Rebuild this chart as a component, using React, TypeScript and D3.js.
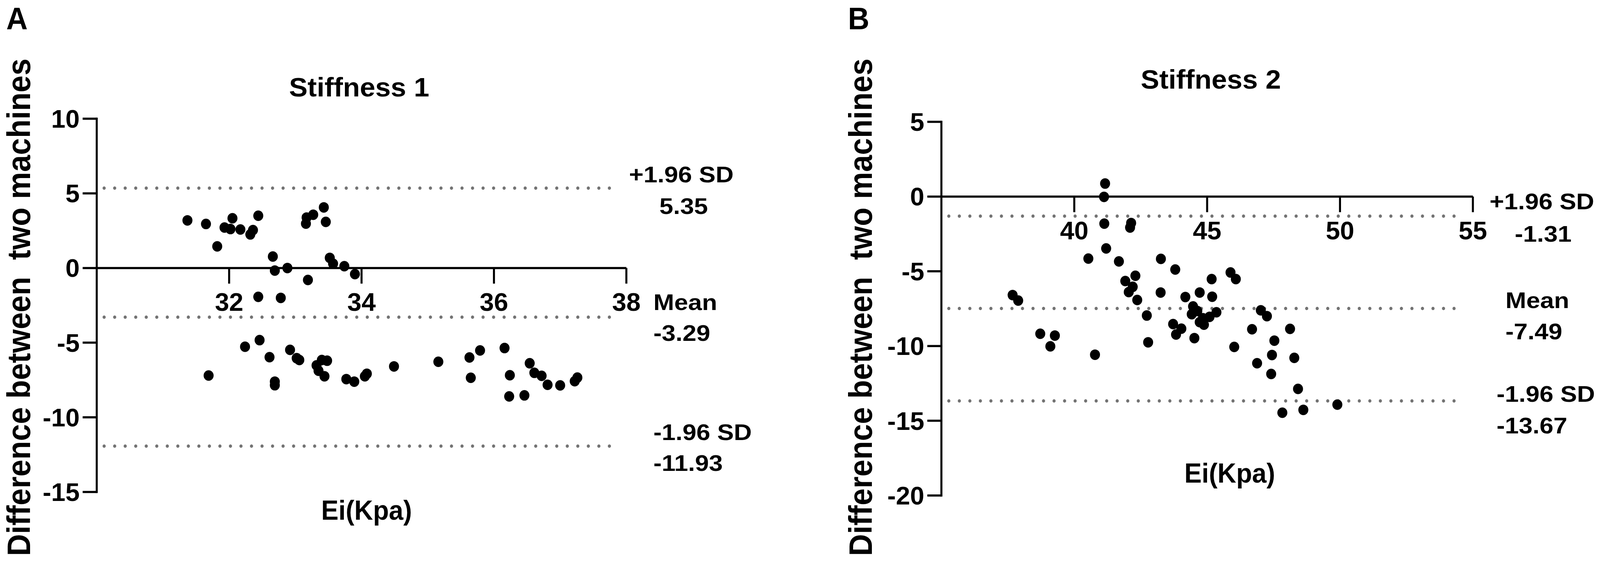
import * as d3 from "d3";

// Bland-Altman data: [mean Ei (kPa), difference]
const stiffness1Points: [number, number][] = [
  [31.37, 3.19], [31.65, 2.95], [31.82, 1.45], [31.93, 2.71], [32.05, 3.33],
  [32.02, 2.61], [32.17, 2.58], [32.32, 2.25], [32.36, 2.54], [32.44, 3.5],
  [32.66, 0.77], [32.69, -0.17], [32.88, 0.0], [33.16, 2.97], [33.17, 3.38],
  [33.27, 3.57], [33.43, 4.06], [33.46, 3.09], [33.19, -0.8], [33.52, 0.68],
  [33.57, 0.29], [33.74, 0.12], [33.9, -0.41], [32.44, -1.93], [32.78, -2.0],
  [31.69, -7.2], [32.24, -5.27], [32.46, -4.83], [32.61, -5.97], [32.69, -7.61],
  [32.69, -7.85], [32.92, -5.48], [33.02, -6.04], [33.06, -6.16], [33.32, -6.52],
  [33.4, -6.16], [33.48, -6.21], [33.35, -6.88], [33.44, -7.25], [33.77, -7.44],
  [33.89, -7.61], [34.05, -7.25], [34.08, -7.08], [34.49, -6.59], [35.16, -6.28],
  [35.63, -5.99], [35.79, -5.52], [35.65, -7.35], [36.16, -5.36], [36.24, -7.18],
  [36.23, -8.6], [36.46, -8.53], [36.54, -6.38], [36.61, -7.02], [36.72, -7.22],
  [36.81, -7.82], [37.0, -7.86], [37.22, -7.58], [37.26, -7.34],
];

const stiffness2Points: [number, number][] = [
  [37.68, -6.59], [37.89, -6.96], [38.72, -9.18], [39.27, -9.3], [39.1, -10.02],
  [40.53, -4.15], [40.78, -10.58], [41.16, 0.87], [41.12, -0.02], [41.13, -1.81],
  [42.14, -1.77], [42.1, -2.07], [41.2, -3.47], [41.68, -4.34], [41.92, -5.65],
  [42.3, -5.3], [42.2, -6.04], [42.05, -6.39], [42.37, -6.92], [42.73, -7.96],
  [42.78, -9.75], [43.26, -4.17], [43.8, -4.88], [43.25, -6.42], [43.72, -8.53],
  [44.03, -8.84], [43.83, -9.23], [44.18, -6.72], [44.72, -6.42], [45.19, -6.7],
  [45.17, -5.52], [44.47, -7.35], [44.42, -7.87], [44.63, -7.66], [44.84, -8.14],
  [44.72, -8.4], [44.88, -8.57], [45.35, -7.74], [45.09, -8.05], [44.52, -9.47],
  [45.88, -5.08], [46.08, -5.52], [46.02, -10.06], [46.69, -8.88], [46.88, -11.15],
  [47.02, -7.61], [47.25, -8.0], [47.53, -9.64], [47.44, -10.6], [47.41, -11.87],
  [48.12, -8.85], [48.28, -10.79], [48.42, -12.87], [47.83, -14.46], [48.62, -14.27],
  [49.9, -13.92],
];

const limitNames = ["+1.96 SD", "Mean", "-1.96 SD"];
const stiffness1Limits = [5.35, -3.29, -11.93];
const stiffness2Limits = [-1.31, -7.49, -13.67];

const stiffness1XTicks = [32, 34, 36, 38];
const stiffness1YTicks = [-15, -10, -5, 0, 5, 10];
const stiffness2XTicks = [40, 45, 50, 55];
const stiffness2YTicks = [-20, -15, -10, -5, 0, 5];

const W = 4317;
const H = 1447;
const FONT = "'Liberation Sans', Arial, Helvetica, sans-serif";
const GREY = "#737373";

const panels = [
  {
    letter: "A",
    letterX: 17,
    title: "Stiffness 1",
    titleX: 969,
    titleY: 247,
    points: stiffness1Points,
    limits: stiffness1Limits,
    xTicks: stiffness1XTicks,
    yTicks: stiffness1YTicks,
    xDomain: [30, 38],
    yDomain: [-15, 10],
    xRange: [261, 1690],
    yRange: [1260, 304],
    lineEnd: 1668,
    yLabelX: 81,
    xLabelX: 989,
    xLabelY: 1331,
    // [name x, name baseline, value x, value baseline]
    notes: [
      [1697, 467, 1779, 548],
      [1763, 794, 1763, 873],
      [1763, 1127, 1763, 1206],
    ],
  },
  {
    letter: "B",
    letterX: 2288,
    title: "Stiffness 2",
    titleX: 3267,
    titleY: 227,
    points: stiffness2Points,
    limits: stiffness2Limits,
    xTicks: stiffness2XTicks,
    yTicks: stiffness2YTicks,
    xDomain: [35, 55],
    yDomain: [-20, 5],
    xRange: [2540, 3974],
    yRange: [1269, 312],
    lineEnd: 3951,
    yLabelX: 2352,
    xLabelX: 3318,
    xLabelY: 1236,
    notes: [
      [4019, 536, 4087, 619],
      [4062, 789, 4062, 869],
      [4038, 1029, 4038, 1110],
    ],
  },
];

function Txt({ x, y, size, sx = 1.1, anchor = "start", children }: any) {
  return (
    <text
      transform={`translate(${x},${y}) scale(${sx},1)`}
      fontSize={size}
      fontWeight="bold"
      fontFamily={FONT}
      textAnchor={anchor}
      fill="#000"
    >
      {children}
    </text>
  );
}

function Panel({ p }: any) {
  const x = d3.scaleLinear().domain(p.xDomain).range(p.xRange);
  const y = d3.scaleLinear().domain(p.yDomain).range(p.yRange);
  const x0 = p.xRange[0];
  const y0 = y(0);
  const tick = 38;

  return (
    <g>
      <text x={p.letterX} y={75} fontSize={80} fontWeight="bold" fontFamily={FONT}>
        {p.letter}
      </text>
      <Txt x={p.titleX} y={p.titleY} size={68} anchor="middle">
        {p.title}
      </Txt>

      {/* limits of agreement */}
      {p.limits.map((v: number, i: number) => (
        <line
          key={"l" + i}
          x1={x0 + 20}
          x2={p.lineEnd}
          y1={y(v)}
          y2={y(v)}
          stroke={GREY}
          strokeWidth={8.5}
          strokeLinecap="round"
          strokeDasharray="0 28.4"
        />
      ))}

      {/* y axis */}
      <line x1={x0} x2={x0} y1={y(p.yDomain[0])} y2={y(p.yDomain[1])} stroke="#000" strokeWidth={5.5} strokeLinecap="square" />
      {p.yTicks.map((t: number) => (
        <g key={"yt" + t}>
          <line x1={x0 - tick} x2={x0} y1={y(t)} y2={y(t)} stroke="#000" strokeWidth={5.5} />
          <Txt x={x0 - tick - 8} y={y(t) + 23} size={64} sx={1.08} anchor="end">
            {String(t)}
          </Txt>
        </g>
      ))}

      {/* x axis at zero */}
      <line x1={x0} x2={x(p.xDomain[1])} y1={y0} y2={y0} stroke="#000" strokeWidth={5.5} />
      {p.xTicks.map((t: number) => (
        <g key={"xt" + t}>
          <line x1={x(t)} x2={x(t)} y1={y0} y2={y0 + tick + 2} stroke="#000" strokeWidth={5.5} />
          <Txt x={x(t)} y={y0 + 110} size={64} sx={1.08} anchor="middle">
            {String(t)}
          </Txt>
        </g>
      ))}

      {p.points.map((d: [number, number], i: number) => (
        <circle key={"p" + i} cx={x(d[0])} cy={y(d[1])} r={13.5} fill="#000" />
      ))}

      {p.limits.map((v: number, i: number) => (
        <g key={"n" + i}>
          <Txt x={p.notes[i][0]} y={p.notes[i][1]} size={57} sx={1.18}>
            {limitNames[i]}
          </Txt>
          <Txt x={p.notes[i][2]} y={p.notes[i][3]} size={57} sx={1.18}>
            {v.toFixed(2)}
          </Txt>
        </g>
      ))}

      <Txt x={p.xLabelX} y={p.xLabelY} size={70} sx={1.0} anchor="middle">
        Ei(Kpa)
      </Txt>
      <text
        transform={`translate(${p.yLabelX},787) rotate(-90) scale(1,1.12)`}
        fontSize={78}
        fontWeight="bold"
        fontFamily={FONT}
        textAnchor="middle"
        style={{ whiteSpace: "pre" }}
      >
        {"Difference between  two machines"}
      </text>
    </g>
  );
}

export default function App() {
  return (
    <svg
      viewBox={`0 0 ${W} ${H}`}
      preserveAspectRatio="none"
      style={{
        position: "fixed",
        left: 0,
        top: 0,
        width: "100vw",
        height: "100vh",
        display: "block",
        background: "#fff",
      }}
    >
      <rect width={W} height={H} fill="#fff" />
      {panels.map((p) => (
        <Panel key={p.letter} p={p} />
      ))}
    </svg>
  );
}
